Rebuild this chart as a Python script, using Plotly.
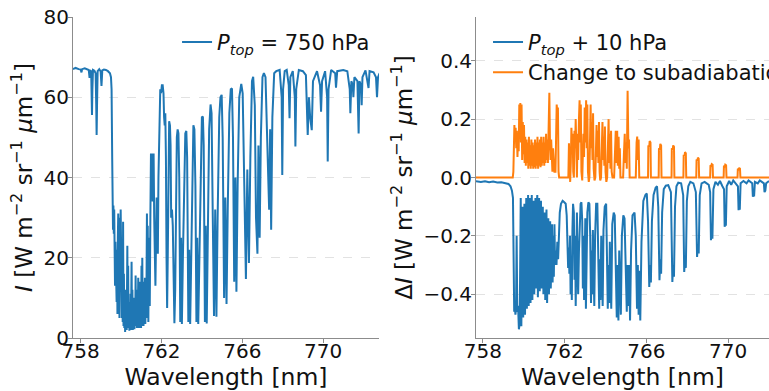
import plotly.graph_objects as go

# ---------------- data ----------------
# Left panel: radiance I for P_top = 750 hPa  (wavelength nm, I)
intensity_pts = [
    (757.62, 67.0), (757.75, 67.3), (757.90, 67.0), (758.00, 66.9), (758.04, 66.2), (758.07, 67.0),
    (758.20, 67.2), (758.30, 66.9), (758.40, 66.8), (758.44, 64.8), (758.47, 66.7), (758.52, 66.5),
    (758.54, 62.0), (758.56, 55.6), (758.58, 62.0), (758.61, 66.8), (758.68, 66.6), (758.74, 66.0),
    (758.77, 58.0), (758.79, 50.6), (758.81, 58.0), (758.84, 66.5), (758.92, 67.0), (758.99, 66.4),
    (759.03, 62.8), (759.07, 66.7), (759.15, 66.9), (759.25, 66.8), (759.35, 66.5), (759.45, 66.0),
    (759.50, 65.0), (759.53, 62.0), (759.56, 45.0), (759.58, 30.0),
    (759.60, 27), (759.62, 33), (759.64, 26), (759.66, 32), (759.68, 25), (759.70, 13), (759.72, 24),
    (759.74, 12), (759.76, 20), (759.78, 9), (759.80, 22), (759.82, 6), (759.84, 25), (759.86, 31),
    (759.88, 10), (759.90, 28), (759.92, 5), (759.94, 30), (759.96, 12), (759.98, 32), (760.00, 8),
    (760.02, 27), (760.04, 5), (760.06, 18), (760.08, 4), (760.10, 29), (760.12, 3), (760.14, 16),
    (760.16, 2.5), (760.18, 10), (760.20, 1.5), (760.22, 12), (760.24, 2), (760.26, 8), (760.28, 2),
    (760.31, 23), (760.33, 4), (760.35, 18), (760.37, 2.5), (760.39, 9), (760.41, 1.8), (760.43, 7),
    (760.45, 2), (760.47, 11), (760.49, 2), (760.52, 19), (760.54, 3), (760.56, 12), (760.58, 2),
    (760.60, 6), (760.62, 2.5), (760.64, 10), (760.66, 2.2), (760.68, 8), (760.70, 3), (760.72, 15.6),
    (760.74, 3), (760.76, 12), (760.78, 2.5), (760.80, 9), (760.82, 2.5), (760.85, 15), (760.87, 3),
    (760.89, 11), (760.91, 2.5), (760.93, 14), (760.95, 3), (760.97, 10), (760.99, 2.5), (761.01, 18),
    (761.03, 3), (761.05, 20), (761.07, 4), (761.09, 14), (761.11, 3), (761.14, 12), (761.16, 4),
    (761.18, 15), (761.20, 3.5), (761.22, 9), (761.25, 5), (761.28, 31), (761.30, 6), (761.32, 28),
    (761.35, 4), (761.38, 25), (761.40, 12), (761.42, 8), (761.45, 30), (761.48, 46), (761.51, 40),
    (761.53, 46), (761.56, 34), (761.58, 45), (761.61, 46), (761.64, 30), (761.67, 20), (761.70, 13),
    (761.73, 24), (761.76, 35), (761.79, 28), (761.82, 21), (761.85, 40), (761.88, 49), (761.91, 58),
    (761.94, 62), (761.98, 61), (762.02, 63), (762.06, 63), (762.10, 61), (762.13, 55), (762.16, 53),
    (762.19, 56), (762.22, 45), (762.25, 20), (762.28, 7.5), (762.31, 20), (762.34, 40), (762.38, 54),
    (762.42, 53), (762.45, 48), (762.48, 30), (762.52, 32), (762.56, 28), (762.60, 10), (762.64, 3.7),
    (762.68, 12), (762.72, 35), (762.76, 50),
    (762.80, 52), (762.84, 51), (762.88, 40), (762.93, 4), (762.97, 25), (763.01, 3.5), (763.06, 20),
    (763.12, 42), (763.18, 51), (763.23, 51.6), (763.27, 45), (763.33, 4), (763.37, 22), (763.42, 3.5),
    (763.47, 18), (763.53, 44), (763.58, 53), (763.63, 52), (763.68, 38), (763.73, 4), (763.77, 25),
    (763.82, 3.5), (763.87, 20), (763.94, 46), (764.00, 55), (764.05, 55.2), (764.09, 48), (764.15, 4),
    (764.19, 28), (764.24, 3.6), (764.30, 30), (764.36, 52), (764.43, 58.2), (764.48, 56), (764.54, 30),
    (764.60, 5.5), (764.66, 32), (764.72, 5.3), (764.78, 30), (764.86, 55), (764.92, 60), (764.98, 60.6),
    (765.03, 50), (765.10, 10), (765.16, 35), (765.22, 8.5), (765.28, 32), (765.36, 56), (765.43, 62),
    (765.49, 62.2), (765.54, 50), (765.60, 14), (765.66, 40), (765.71, 11.5), (765.77, 38), (765.85, 60),
    (765.95, 63.3), (766.02, 61), (766.10, 38), (766.18, 14.7), (766.25, 42), (766.33, 18.7), (766.40, 45),
    (766.48, 64), (766.54, 65.1), (766.62, 58), (766.68, 30), (766.75, 21), (766.80, 48), (766.86, 25),
    (766.92, 50), (767.00, 65), (767.07, 66), (767.15, 65), (767.22, 52), (767.29, 40), (767.33, 32),
    (767.38, 52), (767.43, 27), (767.49, 55), (767.58, 66), (767.68, 66.5),
    (767.85, 66.8), (767.95, 60), (767.98, 40.6), (768.02, 62), (768.10, 66.5), (768.20, 66.8),
    (768.30, 63), (768.34, 54.8), (768.38, 65), (768.50, 66.5), (768.60, 60), (768.63, 47.7),
    (768.67, 62), (768.80, 66.8), (769.00, 66.5), (769.15, 65.5), (769.20, 58), (769.24, 50.6),
    (769.30, 60), (769.36, 55), (769.44, 51.8), (769.50, 64), (769.70, 66.5), (769.85, 63),
    (769.90, 56.4), (769.95, 64), (770.10, 66.5), (770.20, 60), (770.23, 44), (770.27, 62),
    (770.40, 66.8), (770.60, 66), (770.64, 62.4), (770.70, 66.5), (771.00, 66.8), (771.20, 66.5),
    (771.32, 62), (771.35, 56), (771.40, 64), (771.47, 63), (771.50, 60), (771.55, 65), (771.70, 64),
    (771.76, 51), (771.80, 64), (771.88, 63), (771.91, 58), (771.95, 65), (772.10, 66.7), (772.25, 62.3),
    (772.30, 66.5), (772.50, 66.2), (772.62, 65), (772.67, 60), (772.72, 65), (772.80, 66),
]

# Right panel, series 1: Delta I for P_top + 10 hPa
dI_ptop_pts = [
    (757.66, -0.013), (757.90, -0.015), (758.10, -0.013), (758.30, -0.016), (758.50, -0.014),
    (758.70, -0.017), (758.90, -0.016), (759.10, -0.018), (759.25, -0.022), (759.35, -0.030),
    (759.42, -0.045), (759.47, -0.07), (759.50, -0.20), (759.53, -0.46),
    (759.56, -0.44), (759.59, -0.47), (759.62, -0.45), (759.65, -0.20), (759.68, -0.46), (759.72, -0.44),
    (759.76, -0.52), (759.80, -0.50), (759.82, -0.30), (759.85, -0.07), (759.88, -0.51), (759.91, -0.35),
    (759.94, -0.10), (759.97, -0.48), (760.00, -0.35), (760.03, -0.09), (760.06, -0.47), (760.09, -0.30),
    (760.12, -0.07), (760.15, -0.45), (760.18, -0.25), (760.21, -0.06), (760.24, -0.44), (760.27, -0.20),
    (760.30, -0.07), (760.33, -0.43), (760.36, -0.12), (760.39, -0.06), (760.42, -0.42), (760.45, -0.20),
    (760.48, -0.08), (760.51, -0.40), (760.54, -0.30), (760.57, -0.07), (760.60, -0.38), (760.63, -0.10),
    (760.66, -0.06), (760.69, -0.41), (760.72, -0.25), (760.75, -0.07), (760.78, -0.39), (760.81, -0.20),
    (760.84, -0.08), (760.87, -0.38), (760.90, -0.12), (760.93, -0.10), (760.96, -0.40), (760.99, -0.30),
    (761.02, -0.12), (761.05, -0.42), (761.08, -0.20), (761.11, -0.11), (761.14, -0.43), (761.17, -0.30),
    (761.20, -0.14), (761.23, -0.40), (761.26, -0.20), (761.29, -0.15), (761.32, -0.38), (761.35, -0.25),
    (761.38, -0.16), (761.41, -0.36), (761.44, -0.20), (761.47, -0.34), (761.50, -0.16), (761.53, -0.30),
    (761.56, -0.25), (761.60, -0.30), (761.64, -0.22), (761.68, -0.28), (761.72, -0.15), (761.76, -0.12),
    (761.82, -0.09), (761.90, -0.08), (761.98, -0.085), (762.05, -0.09), (762.10, -0.13), (762.14, -0.28),
    (762.17, -0.31), (762.20, -0.24), (762.23, -0.33), (762.26, -0.20), (762.29, -0.40), (762.32, -0.30),
    (762.35, -0.42), (762.38, -0.18), (762.41, -0.09), (762.45, -0.12), (762.48, -0.35), (762.51, -0.20),
    (762.54, -0.44), (762.57, -0.28), (762.60, -0.12), (762.63, -0.30), (762.66, -0.40), (762.70, -0.25),
    (762.74, -0.12), (762.78, -0.09), (762.82, -0.085), (762.86, -0.15), (762.89, -0.38), (762.92, -0.20),
    (762.95, -0.42), (762.98, -0.26), (763.01, -0.14), (763.04, -0.45), (763.07, -0.30), (763.11, -0.12),
    (763.16, -0.085), (763.21, -0.09), (763.25, -0.20), (763.29, -0.43), (763.32, -0.25), (763.35, -0.40),
    (763.38, -0.18), (763.42, -0.30), (763.45, -0.44), (763.49, -0.20), (763.54, -0.09), (763.60, -0.09),
    (763.65, -0.25), (763.69, -0.45), (763.72, -0.28), (763.75, -0.42), (763.79, -0.20), (763.82, -0.32),
    (763.86, -0.44), (763.90, -0.18), (763.96, -0.10), (764.03, -0.09), (764.07, -0.22), (764.11, -0.45),
    (764.14, -0.30), (764.18, -0.43), (764.21, -0.22), (764.25, -0.35), (764.28, -0.45), (764.33, -0.16),
    (764.40, -0.12), (764.45, -0.13), (764.50, -0.30), (764.55, -0.48), (764.59, -0.30), (764.63, -0.49),
    (764.67, -0.25), (764.71, -0.42), (764.75, -0.47), (764.80, -0.20), (764.87, -0.13), (764.93, -0.14),
    (764.98, -0.28), (765.04, -0.46), (765.08, -0.30), (765.12, -0.44), (765.16, -0.30), (765.20, -0.49),
    (765.25, -0.25), (765.32, -0.13), (765.42, -0.12), (765.48, -0.20), (765.54, -0.45), (765.58, -0.30),
    (765.62, -0.47), (765.66, -0.32), (765.70, -0.49), (765.76, -0.22), (765.85, -0.08), (765.95, -0.06),
    (766.02, -0.055), (766.08, -0.15), (766.14, -0.375), (766.18, -0.30), (766.22, -0.36), (766.27, -0.15),
    (766.35, -0.06), (766.45, -0.035), (766.52, -0.03), (766.58, -0.10), (766.64, -0.352), (766.68, -0.28),
    (766.72, -0.33), (766.77, -0.12), (766.85, -0.04), (766.95, -0.028), (767.07, -0.026), (767.20, -0.05),
    (767.27, -0.358), (767.31, -0.30), (767.35, -0.34), (767.40, -0.10), (767.47, -0.03), (767.56, -0.018),
    (767.70, -0.02), (767.80, -0.06), (767.85, -0.324), (767.89, -0.28), (767.93, -0.31), (767.98, -0.08),
    (768.05, -0.03), (768.15, -0.015), (768.30, -0.02), (768.42, -0.05), (768.48, -0.272), (768.52, -0.23),
    (768.56, -0.26), (768.61, -0.06), (768.70, -0.02), (768.85, -0.015), (768.95, -0.02), (769.05, -0.025),
    (769.12, -0.05), (769.16, -0.215), (769.20, -0.18), (769.23, -0.21), (769.28, -0.04), (769.38, -0.015),
    (769.50, -0.025), (769.60, -0.012), (769.72, -0.03), (769.80, -0.04), (769.83, -0.169), (769.86, -0.14),
    (769.89, -0.165), (769.93, -0.03), (770.05, -0.012), (770.15, -0.025), (770.25, -0.01), (770.38, -0.02),
    (770.48, -0.03), (770.51, -0.112), (770.54, -0.09), (770.57, -0.11), (770.61, -0.02), (770.75, -0.012),
    (770.90, -0.02), (771.00, -0.01), (771.10, -0.015), (771.18, -0.02), (771.21, -0.066), (771.24, -0.05),
    (771.27, -0.065), (771.31, -0.015), (771.45, -0.02), (771.55, -0.01), (771.65, -0.015), (771.75, -0.02),
    (771.78, -0.05), (771.82, -0.045), (771.86, -0.02), (772.00, -0.012),
]

# Right panel, series 2: Delta I for change to subadiabatic profile
dI_subad_pts = [
    (757.66, 0.0), (759.46, 0.0), (759.49, 0.02), (759.51, 0.15), (759.54, 0.18), (759.57, 0.13),
    (759.60, 0.17), (759.63, 0.10), (759.66, 0.16), (759.69, 0.07), (759.72, 0.14), (759.75, 0.09),
    (759.78, 0.25), (759.80, 0.16), (759.83, 0.255), (759.86, 0.12), (759.89, 0.25), (759.92, 0.06),
    (759.95, 0.19), (759.98, 0.08), (760.01, 0.18), (760.04, 0.05), (760.07, 0.14), (760.10, 0.04),
    (760.13, 0.13), (760.16, 0.05), (760.19, 0.12), (760.22, 0.03), (760.25, 0.14), (760.28, 0.04),
    (760.31, 0.11), (760.34, 0.03), (760.37, 0.13), (760.40, 0.04), (760.43, 0.12), (760.46, 0.03),
    (760.49, 0.11), (760.52, 0.035), (760.55, 0.13), (760.58, 0.03), (760.61, 0.12), (760.64, 0.04),
    (760.67, 0.14), (760.70, 0.03), (760.73, 0.12), (760.76, 0.04), (760.79, 0.13), (760.82, 0.035),
    (760.85, 0.14), (760.88, 0.04), (760.91, 0.12), (760.94, 0.05), (760.97, 0.14), (761.00, 0.04),
    (761.03, 0.12), (761.06, 0.05), (761.09, 0.15), (761.12, 0.06), (761.15, 0.13), (761.18, 0.05),
    (761.21, 0.15), (761.25, 0.29), (761.28, 0.12), (761.31, 0.06), (761.34, 0.13), (761.37, 0.04),
    (761.40, 0.02), (761.43, 0.10), (761.46, 0.03), (761.50, 0.02), (761.55, 0.02), (761.58, 0.20),
    (761.61, 0.25), (761.64, 0.22), (761.67, 0.24), (761.70, 0.02), (761.73, 0.0), (762.18, 0.0),
    (762.21, 0.117), (762.24, 0.05), (762.27, -0.015), (762.30, 0.05), (762.33, 0.17), (762.36, 0.12),
    (762.39, 0.15), (762.42, 0.02), (762.45, 0.0), (762.48, 0.16), (762.51, 0.10), (762.54, 0.20),
    (762.57, 0.08), (762.60, 0.0), (762.63, 0.15), (762.66, 0.06), (762.70, 0.20), (762.73, 0.265),
    (762.76, 0.12), (762.79, 0.25), (762.82, 0.02), (762.86, -0.01), (762.89, 0.08), (762.92, 0.15),
    (762.95, 0.07), (762.98, 0.24), (763.02, 0.12), (763.05, 0.265), (763.08, 0.10), (763.11, 0.25),
    (763.14, 0.02), (763.18, -0.015), (763.21, 0.0), (763.24, 0.12), (763.27, 0.25), (763.30, 0.10),
    (763.33, 0.19), (763.36, 0.06), (763.39, 0.22), (763.42, 0.03), (763.46, -0.01), (763.50, 0.0),
    (763.53, 0.10), (763.56, 0.18), (763.59, 0.07), (763.62, 0.16), (763.65, 0.05), (763.68, 0.19),
    (763.71, 0.02), (763.74, -0.01), (763.78, 0.0), (763.82, 0.12), (763.85, 0.19), (763.88, 0.06),
    (763.91, 0.14), (763.94, 0.04), (763.97, 0.175), (764.00, 0.02), (764.04, -0.015), (764.08, 0.0),
    (764.12, 0.10), (764.15, 0.20), (764.18, 0.05), (764.21, 0.15), (764.24, 0.03), (764.27, 0.16),
    (764.30, 0.02), (764.34, 0.0), (764.42, 0.0), (764.46, 0.09), (764.50, 0.16), (764.53, 0.05),
    (764.57, 0.16), (764.60, 0.04), (764.64, 0.14), (764.67, 0.03), (764.70, 0.10), (764.73, 0.0),
    (764.86, 0.0), (764.90, 0.08), (764.94, 0.15), (764.97, 0.05), (765.01, 0.12), (765.04, 0.03),
    (765.08, 0.297), (765.12, 0.10), (765.15, 0.13), (765.18, 0.0), (765.48, 0.0), (765.52, 0.12),
    (765.55, 0.14), (765.58, 0.06), (765.62, 0.13), (765.65, 0.0), (766.08, 0.0), (766.095, 0.11),
    (766.14, 0.105), (766.16, 0.125), (766.20, 0.12), (766.22, 0.0), (766.60, 0.0), (766.615, 0.10),
    (766.66, 0.095), (766.68, 0.115), (766.72, 0.11), (766.74, 0.0), (767.23, 0.0), (767.245, 0.10),
    (767.29, 0.095), (767.31, 0.11), (767.35, 0.105), (767.37, 0.0), (767.81, 0.0), (767.825, 0.078),
    (767.87, 0.075), (767.89, 0.087), (767.93, 0.083), (767.95, 0.0), (768.44, 0.0), (768.455, 0.062),
    (768.50, 0.058), (768.52, 0.068), (768.56, 0.065), (768.58, 0.0), (769.12, 0.0), (769.135, 0.042),
    (769.18, 0.040), (769.20, 0.046), (769.24, 0.044), (769.26, 0.0), (769.78, 0.0), (769.795, 0.040),
    (769.84, 0.038), (769.86, 0.044), (769.90, 0.042), (769.92, 0.0), (770.46, 0.0), (770.475, 0.030),
    (770.52, 0.028), (770.54, 0.033), (770.58, 0.030), (770.60, 0.0), (772.00, 0.0),
]

left_yticks = [0, 20, 40, 60, 80]
right_yticks = [-0.4, -0.2, 0.0, 0.2, 0.4]
xticks = [758, 762, 766, 770]

wl_I = [p[0] for p in intensity_pts]
I_vals = [p[1] for p in intensity_pts]
wl_top = [p[0] for p in dI_ptop_pts]
dI_top = [p[1] for p in dI_ptop_pts]
wl_sub = [p[0] for p in dI_subad_pts]
dI_sub = [p[1] for p in dI_subad_pts]

BLUE = "#1f77b4"
ORANGE = "#ff7f0e"
FONT = "DejaVu Sans"

fig = go.Figure()
fig.add_trace(go.Scatter(x=wl_I, y=I_vals, mode="lines", line=dict(color=BLUE, width=2),
                         name="<i>P</i><sub><i>top</i></sub> = 750 hPa", xaxis="x", yaxis="y",
                         legend="legend"))
fig.add_trace(go.Scatter(x=wl_top, y=dI_top, mode="lines", line=dict(color=BLUE, width=2),
                         name="<i>P</i><sub><i>top</i></sub> + 10 hPa", xaxis="x2", yaxis="y2",
                         legend="legend2"))
fig.add_trace(go.Scatter(x=wl_sub, y=dI_sub, mode="lines", line=dict(color=ORANGE, width=2),
                         name="Change to subadiabatic", xaxis="x2", yaxis="y2",
                         legend="legend2"))

axis_common = dict(showline=True, linecolor="#8c8c8c", linewidth=1, ticks="outside",
                   ticklen=4, tickcolor="#8c8c8c", zeroline=False, mirror=False,
                   tickfont=dict(family=FONT, size=20, color="#111"))

TITLE_FONT = dict(family=FONT, size=23.5, color="#111")
YTITLE = "<i>I</i> [W m<sup>−2</sup> sr<sup>−1</sup> <i>μ</i>m<sup>−1</sup>]"
LEG_FONT = dict(family=FONT, size=21, color="#111")

fig.update_layout(
    width=769, height=391,
    margin=dict(l=73, r=0, t=17, b=53, autoexpand=False),
    paper_bgcolor="white", plot_bgcolor="white",
    font=dict(family=FONT, size=20, color="#111"),
    xaxis=dict(domain=[0, 0.4397], range=[757.62, 772.77], tickvals=xticks, showgrid=False,
               ticklabelstandoff=-9,
               title=dict(text="Wavelength [nm]", font=TITLE_FONT, standoff=6),
               anchor="y", **axis_common),
    yaxis=dict(domain=[0, 1], range=[0, 80], tickvals=left_yticks, showgrid=True,
               gridcolor="#e2e2e2", griddash="dash", gridwidth=1, ticklabelstandoff=-5,
               title=dict(text=YTITLE, font=dict(family=FONT, size=23, color="#111"), standoff=4),
               anchor="x", **axis_common),
    xaxis2=dict(domain=[0.579, 1], range=[757.66, 772.0], tickvals=xticks, showgrid=False,
                ticklabelstandoff=-9,
                title=dict(text="Wavelength [nm]", font=TITLE_FONT, standoff=6),
                anchor="y2", **axis_common),
    yaxis2=dict(domain=[0, 1], range=[-0.55, 0.55], tickvals=right_yticks, tickformat=".1f",
                showgrid=True, gridcolor="#e2e2e2", griddash="dash", gridwidth=1,
                ticklabelstandoff=-5,
                title=dict(text="Δ" + YTITLE, font=dict(family=FONT, size=23, color="#111"),
                           standoff=4),
                anchor="x2", **axis_common),
    legend=dict(x=0.1495, y=0.985, xanchor="left", yanchor="top", bgcolor="rgba(0,0,0,0)",
                borderwidth=0, font=LEG_FONT),
    legend2=dict(x=0.5963, y=0.985, xanchor="left", yanchor="top", bgcolor="rgba(0,0,0,0)",
                 borderwidth=0, font=LEG_FONT),
    showlegend=True,
)

fig.write_html("out.html", config={"displayModeBar": False},
               post_script="document.body.style.margin='0';")
